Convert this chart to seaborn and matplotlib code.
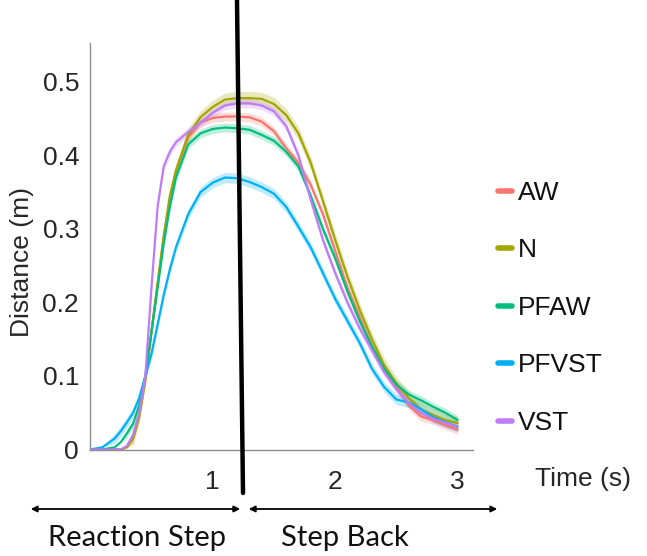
import numpy as np
import pandas as pd
import matplotlib
matplotlib.use("Agg")
import matplotlib.pyplot as plt
from matplotlib.lines import Line2D
from matplotlib.patches import FancyArrowPatch
import seaborn as sns

# ---- data ----
time_s = [0, 0.1, 0.2, 0.25, 0.3, 0.35, 0.4, 0.45, 0.5, 0.55, 0.6, 0.65, 0.7,
          0.8, 0.9, 1.0, 1.1, 1.2, 1.3, 1.4, 1.5, 1.6, 1.7, 1.8, 1.9, 2.0,
          2.1, 2.2, 2.3, 2.4, 2.5, 2.6, 2.7, 2.8, 2.9, 3.0]

aw = [0, 0, 0, 0, 0.003, 0.015, 0.045, 0.095, 0.16, 0.225, 0.29, 0.34, 0.378,
      0.425, 0.445, 0.451, 0.453, 0.453, 0.452, 0.446, 0.433, 0.41, 0.39, 0.36,
      0.32, 0.27, 0.22, 0.18, 0.14, 0.11, 0.085, 0.06, 0.045, 0.04, 0.033, 0.027]
n = [0, 0, 0, 0, 0.003, 0.015, 0.045, 0.095, 0.16, 0.225, 0.29, 0.345, 0.38,
     0.428, 0.452, 0.466, 0.476, 0.478, 0.478, 0.477, 0.47, 0.455, 0.43, 0.39,
     0.338, 0.285, 0.235, 0.19, 0.15, 0.115, 0.09, 0.07, 0.055, 0.047, 0.04, 0.036]
pfaw = [0, 0, 0.003, 0.01, 0.022, 0.035, 0.06, 0.10, 0.16, 0.22, 0.28, 0.33, 0.37,
        0.415, 0.43, 0.436, 0.438, 0.437, 0.435, 0.428, 0.42, 0.405, 0.385, 0.345,
        0.30, 0.26, 0.215, 0.175, 0.14, 0.11, 0.088, 0.075, 0.067, 0.058, 0.05, 0.04]
pfvst = [0, 0.003, 0.015, 0.025, 0.037, 0.05, 0.07, 0.10, 0.13, 0.17, 0.21, 0.245, 0.275,
         0.32, 0.35, 0.363, 0.37, 0.369, 0.364, 0.357, 0.348, 0.33, 0.303, 0.275,
         0.24, 0.205, 0.175, 0.145, 0.11, 0.085, 0.068, 0.064, 0.055, 0.044, 0.037, 0.031]
vst = [0, 0, 0, 0, 0.005, 0.02, 0.05, 0.10, 0.22, 0.33, 0.385, 0.405, 0.418,
       0.432, 0.444, 0.458, 0.468, 0.471, 0.471, 0.468, 0.46, 0.44, 0.40, 0.34,
       0.285, 0.24, 0.2, 0.165, 0.135, 0.105, 0.082, 0.063, 0.05, 0.042, 0.036, 0.031]

conditions = ["AW", "N", "PFAW", "PFVST", "VST"]
series = [aw, n, pfaw, pfvst, vst]
band_half = [0.006, 0.009, 0.006, 0.007, 0.006]
colors = ["#F8766D", "#A3A500", "#00BF7D", "#00B0F6", "#BF7CF7"]

y_ticks = [0, 0.1, 0.2, 0.3, 0.4, 0.5]
y_tick_labels = ["0", "0.1", "0.2", "0.3", "0.4", "0.5"]
x_ticks = [1, 2, 3]
x_tick_labels = ["1", "2", "3"]

sns.set_style("white")
plt.rcParams["font.family"] = ["Liberation Sans", "DejaVu Sans"]

# ---- figure ----
W, H = 647, 556
fig = plt.figure(figsize=(W / 100, H / 100), dpi=100)
ax = fig.add_axes([90.2 / W, (H - 449.5) / H, (473 - 90.2) / W, (449.5 - 43) / H])

df = pd.DataFrame({
    "Time": np.tile(time_s, len(conditions)),
    "Distance": np.concatenate(series),
    "Condition": np.repeat(conditions, len(time_s)),
})
palette = dict(zip(conditions, colors))

for cond, vals, hw in zip(conditions, series, band_half):
    v = np.array(vals)
    ax.fill_between(time_s, v - hw * (v > 0.01), v + hw * (v > 0.01),
                    color=palette[cond], alpha=0.25, lw=0)

sns.lineplot(data=df, x="Time", y="Distance", hue="Condition", palette=palette,
             hue_order=conditions, ax=ax, legend=False, linewidth=1.6,
             errorbar=None)

ax.set_xlim(0, 3.125)
ax.set_ylim(0, 0.553)
ax.set_xticks(x_ticks)
ax.set_xticklabels(x_tick_labels)
ax.set_yticks(y_ticks)
ax.set_yticklabels(y_tick_labels)
ax.set_xlabel("")
ax.set_ylabel("")
for s in ["top", "right"]:
    ax.spines[s].set_visible(False)
for s in ["left", "bottom"]:
    ax.spines[s].set_color("#8c8c8c")
    ax.spines[s].set_linewidth(1.0)
ax.tick_params(axis="x", direction="in", length=4, color="#8c8c8c",
               pad=15, labelsize=19, labelcolor="#262626")
ax.tick_params(axis="y", direction="in", length=4, color="#8c8c8c",
               pad=8, labelsize=19, labelcolor="#262626")

# axis titles
fig.text(22 / W, 1 - 262 / H, "Distance (m)", rotation=90, ha="center", va="center",
         fontsize=19, color="#262626")
fig.text(583 / W, 1 - 479 / H, "Time (s)", ha="center", va="center",
         fontsize=19, color="#262626")

# legend
handles = [Line2D([0], [0], color=c, lw=4) for c in colors]
leg = fig.legend(handles, conditions, loc="upper left",
                 bbox_to_anchor=(474 / W, 1 - 157 / H), frameon=False,
                 handlelength=0.55, handletextpad=0.22, labelspacing=1.27,
                 prop={"size": 19})
for t in leg.get_texts():
    t.set_color("#111111")

# slanted black divider line
fig.add_artist(Line2D([237 / W, 243 / W], [1.0, 1 - 493 / H], color="black",
                      lw=3.2, transform=fig.transFigure))

# phase arrows
arrow_y = 1 - 509 / H
fig.add_artist(FancyArrowPatch(
    (28 / W, arrow_y), (243 / W, arrow_y), transform=fig.transFigure,
    arrowstyle="<|-|>", mutation_scale=9, color="black", lw=1.3))
fig.add_artist(FancyArrowPatch(
    (246 / W, arrow_y), (500 / W, arrow_y), transform=fig.transFigure,
    arrowstyle="<|-|>", mutation_scale=9, color="black", lw=1.3))
fig.text(137 / W, 1 - 538 / H, "Reaction Step", ha="center", va="center",
         fontsize=21, family="Lato", color="#111111")
fig.text(345 / W, 1 - 538 / H, "Step Back", ha="center", va="center",
         fontsize=21, family="Lato", color="#111111")

fig.savefig("out.png", dpi=100, facecolor="white")
